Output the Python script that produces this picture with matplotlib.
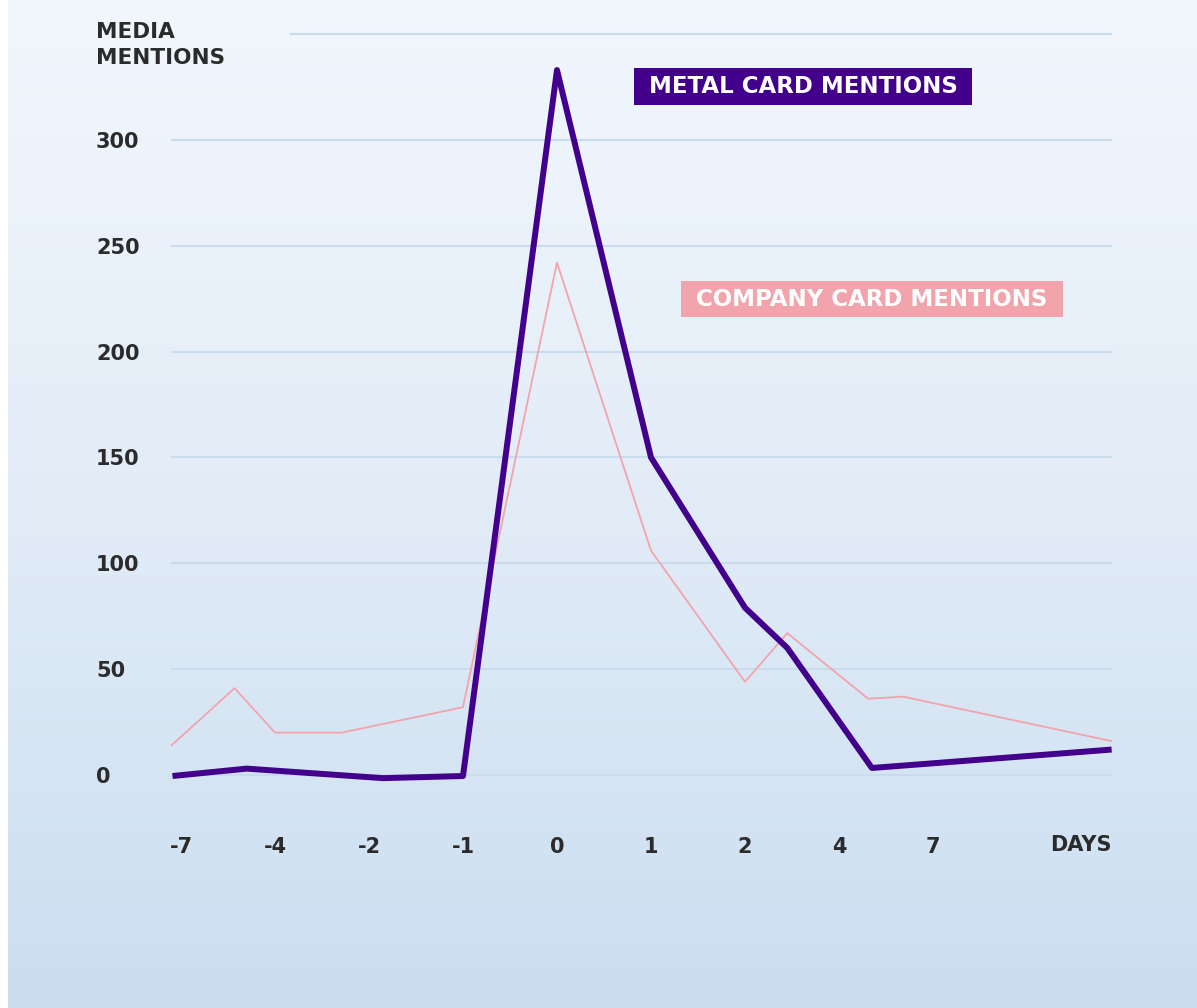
import numpy as np
import matplotlib
matplotlib.use('Agg')
import matplotlib.pyplot as plt
from matplotlib.colors import LinearSegmentedColormap

# day positions on a categorical-ish axis (tick index, 0 = day 0)
tick_pos = [-4, -3, -2, -1, 0, 1, 2, 3, 4]
tick_labels = ['-7', '-4', '-2', '-1', '0', '1', '2', '4', '7']

metal_x = [-4.09, -3.30, -2.5, -1.85, -1.0, 0, 1, 2, 2.45, 3.35, 5.90]
metal_y = [-0.5, 3, 0.5, -1.5, -0.5, 333, 150, 79, 60, 3.3, 12]

company_x = [-4.10, -3.43, -3.0, -2.29, -1.0, 0, 1.0, 2, 2.45, 3.31, 3.68, 5.90]
company_y = [14, 41, 20, 20, 32, 242, 106, 44, 67, 36, 37, 16]

y_ticks = [0, 50, 100, 150, 200, 250, 300]

purple = '#42008c'
pink = '#f2a4ac'
grid_col = '#c8dcee'
txt_col = '#2b2b2b'

W, H = 1197, 1008
fig = plt.figure(figsize=(W / 100, H / 100), dpi=100)
fig.patch.set_facecolor('white')

# gradient background
bg = fig.add_axes([8 / W, 0, 1 - 8 / W, 1], zorder=-1)
cm = LinearSegmentedColormap.from_list('bg', ['#f2f7fd', '#e2ecf7', '#cadef0'])
bg.imshow(np.linspace(0, 1, 256).reshape(-1, 1), aspect='auto', cmap=cm,
          extent=[0, 1, 0, 1], origin='upper')
bg.axis('off')

ax = fig.add_axes([171 / W, 1 - 817.3 / H, 941 / W, 804.4 / H])
ax.patch.set_alpha(0)
ax.set_xlim(-4.106, 5.904)
ax.set_ylim(-20, 360)
for s in ax.spines.values():
    s.set_visible(False)

ax.set_yticks(y_ticks)
ax.yaxis.grid(True, color=grid_col, lw=1.5)
ax.axhline(350, xmin=(291 - 171) / 941, color=grid_col, lw=1.5)
ax.set_axisbelow(True)

ax.plot(company_x, company_y, color=pink, lw=1.3, zorder=3)
ax.plot(metal_x, metal_y, color=purple, lw=4.3, zorder=4,
        solid_joinstyle='round', solid_capstyle='butt')

ax.set_xticks(tick_pos, tick_labels)
ax.tick_params(axis='x', length=0, pad=14, labelsize=15, labelcolor=txt_col)
ax.tick_params(axis='y', length=0, pad=54, labelsize=15, labelcolor=txt_col)
for lbl in ax.get_yticklabels() + ax.get_xticklabels():
    lbl.set_fontweight('bold')
for lbl in ax.get_yticklabels():
    lbl.set_ha('left')

ax.annotate('DAYS', xy=(1, 0), xycoords='axes fraction', xytext=(0, -20),
            textcoords='offset points', ha='right', va='center',
            fontsize=15, fontweight='bold', color=txt_col)
fig.text(96 / W, 1 - 45 / H, 'MEDIA\nMENTIONS', ha='left', va='center',
         fontsize=15.5, fontweight='bold', color=txt_col, linespacing=1.4)

ax.text(2.617, 325.2, ' METAL CARD MENTIONS ', ha='center', va='center',
        fontsize=16.5, fontweight='bold', color='white', zorder=6,
        bbox=dict(boxstyle='square,pad=0.3', fc=purple, ec='none'))
ax.text(3.351, 224.8, ' COMPANY CARD MENTIONS ', ha='center', va='center',
        fontsize=16.5, fontweight='bold', color='white', zorder=6,
        bbox=dict(boxstyle='square,pad=0.3', fc=pink, ec='none'))

fig.savefig('out.png', dpi=100)
